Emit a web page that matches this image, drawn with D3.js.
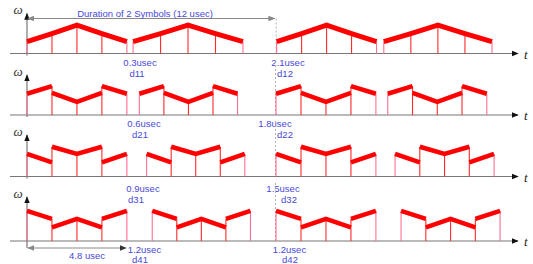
<!DOCTYPE html>
<html><head><meta charset="utf-8">
<script src="https://cdn.jsdelivr.net/npm/d3@7"></script>
<style>
html,body{margin:0;padding:0;background:#fff;}
svg{display:block;}
</style></head>
<body>
<script>
// ---- data (times in usec, frequency levels in ω units) ----
const rowNames = ["row1", "row2", "row3", "row4"];
const symbolStarts = [
  [0, 5.1, 12.0, 17.15],
  [0, 5.4, 11.97, 17.34],
  [0, 5.75, 11.97, 17.69],
  [0, 6.02, 11.97, 17.98]
];
const segmentDurations = [
  [1.2, 1.32, 1.2, 1.3],
  [1.2, 1.18, 1.2, 1.19],
  [1.2, 1.18, 1.2, 1.19],
  [1.2, 1.18, 1.2, 1.19]
];
// each symbol: 4 segments, [start ω, end ω]
const row1Pattern = [[1.4, 2.35], [2.35, 3.35], [3.35, 2.35], [2.35, 1.4]];
const row2Pattern = [[2.5, 3.4], [2.6, 1.55], [1.55, 2.6], [3.4, 2.5]];
const row3Pattern = [[2.65, 1.65], [3.5, 2.65], [2.65, 3.5], [1.65, 2.65]];
const row4Pattern = [[3.55, 2.6], [1.6, 2.6], [2.6, 1.6], [2.6, 3.55]];
const patterns = [row1Pattern, row2Pattern, row3Pattern, row4Pattern];
const gap1Labels = ["0.3usec", "0.6usec", "0.9usec", "1.2usec"];
const gap1Names = ["d11", "d21", "d31", "d41"];
const gap2Labels = ["2.1usec", "1.8usec", "1.5usec", "1.2usec"];
const gap2Names = ["d12", "d22", "d32", "d42"];
const durationLabel = "Duration of 2 Symbols (12 usec)";
const symbolLabel = "4.8 usec";

// ---- layout ----
const W = 533, H = 264;
const baselines = [53.5, 115, 176.5, 241];
const axisTops = [13.5, 75, 135, 197];
const blue = "#4848d8", gray = "#777", red = "#ff0000";

const svg = d3.select("body").append("svg").attr("width", W).attr("height", H);
const defs = svg.append("defs");
function marker(id, color, dir) {
  const m = defs.append("marker").attr("id", id).attr("viewBox", "0 0 10 10")
    .attr("refX", 9).attr("refY", 5).attr("markerWidth", 7).attr("markerHeight", 7)
    .attr("markerUnits", "userSpaceOnUse").attr("orient", dir);
  m.append("path").attr("d", "M0,1 L10,5 L0,9 Z").attr("fill", color);
}
marker("arrBlack", "#111", "auto");
marker("arrGray", "#888", "auto-start-reverse");
marker("arrGrayEnd", "#888", "auto");
marker("arrDark", "#333", "auto");

const x = d3.scaleLinear().domain([0, 23.6]).range([27, 518]);

rowNames.forEach((name, r) => {
  const base = baselines[r];
  const y = d3.scaleLinear().domain([0, 4]).range([base, base - 34]);
  const g = svg.append("g").attr("class", name);

  // dashed marker at symbol 3 start
  g.append("line")
    .attr("x1", x(symbolStarts[r][2]) - 0.5).attr("x2", x(symbolStarts[r][2]) - 0.5)
    .attr("y1", r === 0 ? 18.5 : axisTops[r] - 14).attr("y2", base)
    .attr("stroke", "#b0b0b0").attr("stroke-width", 1).attr("stroke-dasharray", "2,2");

  // t axis
  g.append("line").attr("x1", 10).attr("x2", x.range()[1]).attr("y1", base).attr("y2", base)
    .attr("stroke", gray).attr("stroke-width", 1.2).attr("marker-end", "url(#arrBlack)");
  g.append("text").attr("x", 524).attr("y", base + 5)
    .attr("font-family", "'Liberation Serif', serif").attr("font-style", "italic")
    .attr("font-size", 13).attr("fill", "#222").text("t");
  // ω axis
  g.append("line").attr("x1", x(0)).attr("x2", x(0))
    .attr("y1", r === 3 ? 248 : base + 2).attr("y2", axisTops[r])
    .attr("stroke", gray).attr("stroke-width", 1.2).attr("marker-end", "url(#arrBlack)");
  g.append("text").attr("x", 18).attr("y", axisTops[r] + 0.5).attr("text-anchor", "middle")
    .attr("font-family", "'Liberation Serif', serif").attr("font-style", "italic")
    .attr("font-size", 13).attr("fill", "#333").text("ω");

  // symbols
  symbolStarts[r].forEach((s, k) => {
    const d = segmentDurations[r][k];
    const pat = patterns[r];
    // vertical lines at boundaries
    for (let i = 0; i <= pat.length; i++) {
      const vals = [];
      if (i > 0) vals.push(pat[i - 1][1]);
      if (i < pat.length) vals.push(pat[i][0]);
      const top = d3.max(vals);
      const edge = (i === 0 || i === pat.length);
      g.append("line").attr("x1", x(s + i * d)).attr("x2", x(s + i * d))
        .attr("y1", base).attr("y2", y(top))
        .attr("stroke", edge ? "#ff6f8f" : "#ff2a2a").attr("stroke-width", 1.1);
    }
    // thick frequency trajectory
    let p = "";
    pat.forEach((seg, i) => {
      const x0 = x(s + i * d), x1 = x(s + (i + 1) * d);
      const cont = i > 0 && pat[i - 1][1] === seg[0];
      p += (cont ? "L" : "M") + x0 + "," + y(seg[0]) + "L" + x1 + "," + y(seg[1]);
    });
    g.append("path").attr("d", p).attr("fill", "none").attr("stroke", red)
      .attr("stroke-width", r === 0 ? 5 : 4.5).attr("stroke-linejoin", "miter");
  });

  // gap labels
  const lab = (tx, ty, txt) => g.append("text").attr("x", tx).attr("y", ty)
    .attr("text-anchor", "middle").attr("font-family", "'Liberation Sans', Arial, sans-serif")
    .attr("font-size", 9.5).attr("fill", blue).text(txt);
  const ly = base + [12, 11.5, 15, 12][r];
  const ny = ly + [11, 11, 11, 9.5][r];
  lab([140, 144, 143, 144.5][r], ly, gap1Labels[r]);
  lab([137, 140, 136, 140][r], ny, gap1Names[r]);
  lab([288, 275, 283, 289.5][r], ly, gap2Labels[r]);
  lab([285, 285, 289, 290][r], ny, gap2Names[r]);
});

// duration of 2 symbols arrow
svg.append("line").attr("x1", x(0) + 1).attr("x2", x(symbolStarts[0][2]) - 2)
  .attr("y1", 18.5).attr("y2", 18.5).attr("stroke", "#888").attr("stroke-width", 1)
  .attr("marker-start", "url(#arrGray)").attr("marker-end", "url(#arrGrayEnd)");
svg.append("text").attr("x", 145).attr("y", 16.5).attr("text-anchor", "middle")
  .attr("font-family", "'Liberation Sans', Arial, sans-serif").attr("font-size", 9.5)
  .attr("fill", blue).text(durationLabel);

// 4.8 usec arrow (one symbol)
svg.append("line").attr("x1", x(0) + 1).attr("x2", x(4 * segmentDurations[3][0]) - 1)
  .attr("y1", 248).attr("y2", 248).attr("stroke", "#888").attr("stroke-width", 1)
  .attr("marker-start", "url(#arrGray)").attr("marker-end", "url(#arrDark)");
svg.append("text").attr("x", 87).attr("y", 259).attr("text-anchor", "middle")
  .attr("font-family", "'Liberation Sans', Arial, sans-serif").attr("font-size", 9.5)
  .attr("fill", blue).text(symbolLabel);
</script>
</body></html>
